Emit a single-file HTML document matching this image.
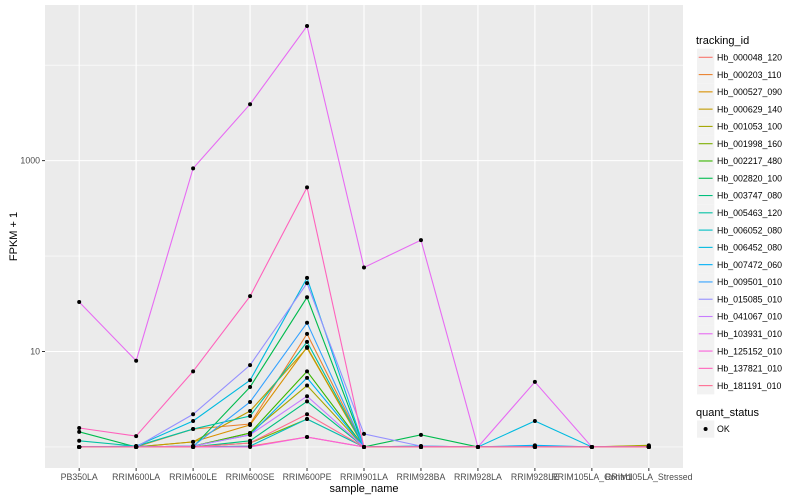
<!DOCTYPE html>
<html><head><meta charset="utf-8"><style>
body{margin:0;background:#fff}
svg{display:block;font-family:"Liberation Sans",sans-serif}
</style></head><body>
<svg id="chart" width="800" height="500" xmlns="http://www.w3.org/2000/svg"></svg>
<script>
const categories=["PB350LA","RRIM600LA","RRIM600LE","RRIM600SE","RRIM600PE","RRIM901LA","RRIM928BA","RRIM928LA","RRIM928LE","RRIM105LA_Control","RRIM105LA_Stressed"];
const seriesIds=["Hb_000048_120","Hb_000203_110","Hb_000527_090","Hb_000629_140","Hb_001053_100","Hb_001998_160","Hb_002217_480","Hb_002820_100","Hb_003747_080","Hb_005463_120","Hb_006052_080","Hb_006452_080","Hb_007472_060","Hb_009501_010","Hb_015085_010","Hb_041067_010","Hb_103931_010","Hb_125152_010","Hb_137821_010","Hb_181191_010"];
const s000048=[1,1,1,1.02,1.27,1,1,1,1.02,1,1];
const s000203=[1,1,1.54,1.74,15.3,1,1,1,1,1,1];
const s000527=[1,1,1.13,1.70,11.1,1,1,1,1,1,1];
const s000629=[1,1,1.13,2.38,10.9,1,1,1,1,1,1.03];
const s001053=[1,1,1.02,1.40,4.4,1,1,1,1.02,1,1.04];
const s001998=[1,1,1,1.10,1.96,1,1,1,1,1,1];
const s002217=[1,1,1.02,1.40,6.2,1,1,1,1,1,1];
const s002820=[1.44,1,1,4.25,37,1,1.34,1,1,1,1];
const s003747=[1,1,1,1.16,3.0,1,1,1,1,1,1];
const s005463=[1.16,1.02,1.54,2.11,12.6,1,1.02,1,1.02,1,1];
const s006052=[1,1.02,1,1.02,1.96,1,1,1,1,1,1];
const s006452=[1,1.02,1.87,5.0,59,1,1,1,1.87,1,1];
const s007472=[1,1,1.02,1.34,5.3,1,1.02,1,1.04,1,1];
const s009501=[1,1,1.02,2.96,20,1,1,1,1,1,1];
const s015085=[1,1,2.2,7.2,52,1.37,1.02,1,1,1,1];
const s041067=[1,1,1.02,1.34,3.4,1,1,1,1,1,1];
const s103931=[33,8,830,3900,25700,76,147,1,4.8,1,1];
const s125152=[1,1,1,1,1.27,1,1,1,1,1,1];
const s137821=[1.58,1.3,6.2,38,525,1,1,1,1,1,1];
const s181191=[1,1,1,1.10,2.2,1,1,1,1,1,1];
const seriesValues=[s000048,s000203,s000527,s000629,s001053,s001998,s002217,s002820,s003747,s005463,s006052,s006452,s007472,s009501,s015085,s041067,s103931,s125152,s137821,s181191];
const yTickLabels=["10","1000"];
const yTickValues=[10,1000];
const yMinorValues=[1,100,10000];

const colors=["#F8766D","#EA8331","#D89000","#C09B00","#A3A500","#7CAE00","#39B600","#00BB4E","#00BF7D","#00C1A3","#00BFC4","#00BAE0","#00B0F6","#35A2FF","#9590FF","#C77CFF","#E76BF3","#FA62DB","#FF62BC","#FF6C91"];
const svg=document.getElementById('chart');
const NS="http://www.w3.org/2000/svg";
function mk(tag,attrs,parent){const e=document.createElementNS(NS,tag);for(const k in attrs)e.setAttribute(k,attrs[k]);(parent||svg).appendChild(e);return e;}
const PL=45,PR=683,PT=5,PB=468;
// y scale: log10 with 5% expansion
let allV=[];seriesValues.forEach(s=>s.forEach(v=>allV.push(Math.log10(v))));
const lmin=Math.min(...allV),lmax=Math.max(...allV),ex=(lmax-lmin)*0.05;
const d0=lmin-ex,d1=lmax+ex;
function y(v){return PB-(Math.log10(v)-d0)/(d1-d0)*(PB-PT);}
const step=(PR-PL)/(categories.length-1+1.2);
function x(i){return PL+step*(0.6+i);}

const panel=mk('rect',{x:PL,y:PT,width:PR-PL,height:PB-PT,fill:'#EBEBEB'});


yMinorValues.forEach(v=>{const yy=y(v);if(yy>PT&&yy<PB){const l=mk('line',{x1:PL,x2:PR,y1:yy,y2:yy,stroke:'#fff','stroke-width':0.55});}});
yTickValues.forEach((v,i)=>{const yy=y(v);
 const l=mk('line',{x1:PL,x2:PR,y1:yy,y2:yy,stroke:'#fff','stroke-width':1.1});
 const t=mk('line',{x1:PL-3,x2:PL,y1:yy,y2:yy,stroke:'#333','stroke-width':1});
 const tx=mk('text',{x:PL-5,y:yy+3,'text-anchor':'end','font-size':'8.8px',fill:'#4D4D4D'});tx.textContent=yTickLabels[i];
});
categories.forEach((c,i)=>{const xx=x(i);
 const l=mk('line',{x1:xx,x2:xx,y1:PT,y2:PB,stroke:'#fff','stroke-width':1.1});
 const t=mk('line',{x1:xx,x2:xx,y1:PB,y2:PB+3,stroke:'#333','stroke-width':1});
 const tx=mk('text',{x:xx,y:PB+12,'text-anchor':'middle','font-size':'8.8px',fill:'#4D4D4D'});tx.textContent=c;
});
seriesValues.forEach((s,k)=>{
 const p=mk('polyline',{points:s.map((v,i)=>x(i)+','+y(v)).join(' '),fill:'none',stroke:colors[k],'stroke-width':1.1});
 
 
});
seriesValues.forEach((s,k)=>{s.forEach((v,i)=>{
 const c=mk('circle',{cx:x(i),cy:y(v),r:2,fill:'#000'});
 
 
});});
const xt=mk('text',{x:(PL+PR)/2,y:492,'text-anchor':'middle','font-size':'11px',fill:'#000'});xt.textContent='sample_name';


const yt=mk('text',{x:0,y:0,transform:'translate(17,'+((PT+PB)/2)+') rotate(-90)','text-anchor':'middle','font-size':'11px',fill:'#000'});yt.textContent='FPKM + 1';


// legend
const lt=mk('text',{x:696,y:44,'font-size':'11px',fill:'#000'});lt.textContent='tracking_id';


seriesIds.forEach((id,k)=>{const cy=57.3+k*17.28;
 const g=mk('g',{});
 
 
 mk('rect',{x:697,y:cy-8.6,width:17.3,height:17.3,fill:'#F2F2F2'},g);
 mk('line',{x1:698.7,x2:712.6,y1:cy,y2:cy,stroke:colors[k],'stroke-width':1.1},g);
 const t=mk('text',{x:717,y:cy+3.2,'font-size':'8.8px',fill:'#000'},g);t.textContent=id;
});
const qt=mk('text',{x:696,y:416,'font-size':'11px',fill:'#000'});qt.textContent='quant_status';


const qg=mk('g',{});


mk('rect',{x:697,y:420.4,width:17.3,height:17.3,fill:'#F2F2F2'},qg);
mk('circle',{cx:705.6,cy:429,r:2,fill:'#000'},qg);
const okt=mk('text',{x:717,y:432.2,'font-size':'8.8px',fill:'#000'},qg);okt.textContent='OK';
</script>
</body></html>
